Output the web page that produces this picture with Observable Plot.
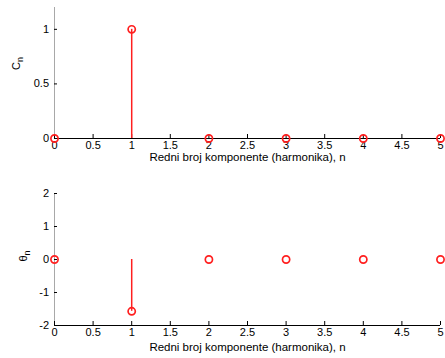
<!DOCTYPE html>
<html>
<head>
<meta charset="utf-8">
<script src="https://cdn.jsdelivr.net/npm/d3@7"></script>
<script src="https://cdn.jsdelivr.net/npm/@observablehq/plot@0.6"></script>
<style>
  html, body { margin: 0; padding: 0; background: #fff; }
  #wrap { position: relative; width: 445px; height: 358px; }
  #wrap > div, #wrap > svg { position: absolute; left: 0; }
</style>
</head>
<body>
<div id="wrap"></div>
<script>
const n = [0, 1, 2, 3, 4, 5];
const Cn = [0, 1, 0, 0, 0, 0];
const thetaN = [0, -1.57, 0, 0, 0, 0];
const xTicks = [0, 0.5, 1, 1.5, 2, 2.5, 3, 3.5, 4, 4.5, 5];
const cTicks = [0, 0.5, 1];
const tTicks = [-2, -1, 0, 1, 2];
const xLabel = "Redni broj komponente (harmonika), n";

const red = "#ff1f1f";
const font = "Liberation Sans, Arial, Helvetica, sans-serif";

function stemPlot(values, yDomain, yTicks, symbol, opts) {
  const rows = n.map((k, i) => ({n: k, v: values[i]}));
  const svg = Plot.plot({
    width: 445,
    height: opts.height,
    marginLeft: 54,
    marginRight: 5,
    marginTop: opts.marginTop,
    marginBottom: opts.marginBottom,
    style: {fontFamily: font, fontSize: "11px", color: "#000", background: "transparent"},
    x: {domain: [0, 5]},
    y: {domain: yDomain},
    marks: [
      Plot.ruleX([0], {stroke: "#a8a8a8", strokeWidth: 1}),
      Plot.axisX(xTicks, {tickSize: -4, tickPadding: 7, label: null, tickFormat: d => String(d), stroke: "#000"}),
      Plot.axisY(yTicks, {tickSize: -3, tickPadding: 8.5, label: null, tickFormat: d => String(d), stroke: "#000"}),
      Plot.ruleY([yDomain[0]], {stroke: "#000", strokeWidth: 1.2}),
      Plot.ruleX(rows, {x: "n", y1: 0, y2: "v", stroke: red, strokeWidth: 1.5}),
      Plot.dot(rows, {x: "n", y: "v", r: 3.6, stroke: red, strokeWidth: 1.7, fill: "none"}),
      Plot.text([xLabel], {frameAnchor: "bottom", dy: opts.xLabelDy, fontSize: 11.5, fill: "#000"}),
      Plot.text([symbol], {frameAnchor: "left", dx: opts.yLabelDx, dy: opts.yLabelDy, rotate: -90, fontSize: 11, fill: "#000"})
    ]
  });
  // add subscript n to the y label
  d3.select(svg).selectAll("text")
    .filter(function () { return this.textContent === symbol; })
    .each(function () {
      const t = d3.select(this);
      t.text(symbol);
      t.append("tspan").attr("font-size", 9).attr("dy", "0.35em").text("n");
    });
  return svg;
}

const wrap = document.getElementById("wrap");
const top1 = stemPlot(Cn, [0, 1.2], cTicks, "C", {height: 170, marginTop: 7, marginBottom: 32, xLabelDy: 22, yLabelDx: -38, yLabelDy: -3});
top1.style.top = "0px";
wrap.appendChild(top1);
const bot = stemPlot(thetaN, [-2, 2], tTicks, "θ", {height: 188, marginTop: 23, marginBottom: 33, xLabelDy: 25, yLabelDx: -31, yLabelDy: 2});
bot.style.top = "170px";
wrap.appendChild(bot);
</script>
</body>
</html>
